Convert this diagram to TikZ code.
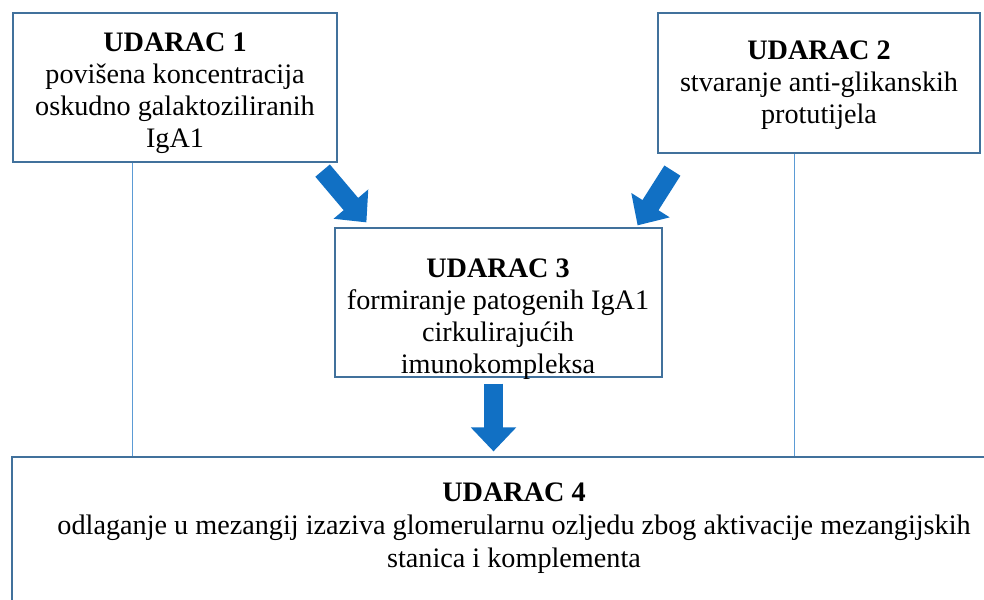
\documentclass[tikz,border=0pt]{standalone}
\usepackage{fontspec}
\setmainfont{Liberation Serif}
\usetikzlibrary{arrows.meta,positioning}
\definecolor{boxline}{HTML}{41719C}
\definecolor{linkline}{HTML}{5B9BD5}
\definecolor{arrowblue}{HTML}{1170C4}

\begin{document}
\begin{tikzpicture}
  [x=1pt, y=-1pt,
   box/.style={draw=boxline, line width=1.2pt, fill=white, inner sep=0pt},
   txt/.style={align=center, inner sep=0pt, font=\fontsize{28.2}{32}\selectfont},
   widetxt/.style={align=center, inner sep=0pt, font=\fontsize{28.2}{33}\selectfont},
   link/.style={draw=linkline, line width=1.2pt},
   blockarrow/.style={draw=arrowblue, line width=19pt, -{Triangle[width=44pt,length=24pt]}}]
  \useasboundingbox (0,0) rectangle (984,599);

  % the four hits
  \node[box, minimum width=324pt, minimum height=149pt] (u1) at (175,87.5) {};
  \node[box, minimum width=322pt, minimum height=140pt] (u2) at (819,83) {};
  \node[box, minimum width=327pt, minimum height=149pt] (u3) at (498.5,302.5) {};
  \node[box, minimum width=988pt, minimum height=163pt] (u4) at (506,538.5) {};

  \node[txt] (t1) at (175,93.5) {\textbf{UDARAC 1}\\povišena koncentracija\\oskudno galaktoziliranih\\IgA1};
  \node[txt] (t2) at (819,85.5) {\textbf{UDARAC 2}\\stvaranje anti-glikanskih\\protutijela};
  \node[txt] (t3) at (498,319) {\textbf{UDARAC 3}\\formiranje patogenih IgA1\\cirkulirajućih\\imunokompleksa};
  \node[widetxt] (t4) at (514,528) {\textbf{UDARAC 4}\\odlaganje u mezangij izaziva glomerularnu ozljedu zbog aktivacije mezangijskih\\stanica i komplementa};

  % thin side lines
  \coordinate (l1) at ([shift={(120,0)}]u1.south west);
  \coordinate (l2) at ([shift={(137,0)}]u2.south west);
  \draw[link] (l1) -- (l1 |- u4.north);
  \draw[link] (l2) -- (l2 |- u4.north);

  % block arrows
  \draw[blockarrow] ([shift={(-15,8)}]u1.south east) -- ([shift={(32,-5)}]u3.north west);
  \draw[blockarrow] ([shift={(15,17)}]u2.south west) -- ([shift={(-25,-2)}]u3.north east);
  \coordinate (d) at ([shift={(-5,0)}]u3.south);
  \coordinate (dtip) at (d |- u4.north);
  \draw[blockarrow] ([shift={(0,6)}]d) -- ([shift={(0,-5)}]dtip);
\end{tikzpicture}
\end{document}
